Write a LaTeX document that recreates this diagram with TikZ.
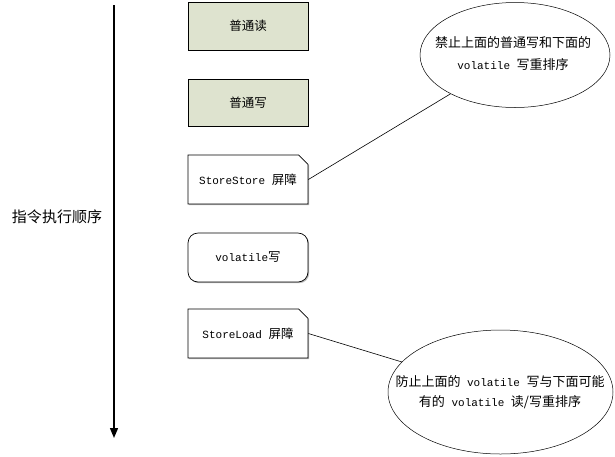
\documentclass[tikz,border=0pt]{standalone}
\usepackage{fontspec}
\setmainfont{Noto Sans CJK SC}
\newfontfamily\mono{Liberation Mono}
\usetikzlibrary{shapes.geometric,shapes.misc,shadows,arrows.meta}
\definecolor{boxgreen}{RGB}{222,227,207}
\newcommand{\en}[1]{{\mono\fontsize{11}{16}\selectfont #1}}
\begin{document}
\begin{tikzpicture}[x=1pt,y=-1pt,
  box/.style={draw=black, line width=0.7pt, minimum width=120pt, minimum height=48pt,
    inner sep=0pt, font=\fontsize{12.5}{14}\selectfont,
    drop shadow={shadow xshift=1.2pt, shadow yshift=-1.2pt, fill=gray!70, opacity=0.8}},
  greenbox/.style={box, fill=boxgreen, rectangle},
  cutbox/.style={box, fill=white, chamfered rectangle, chamfered rectangle corners=north east,
    chamfered rectangle xsep=9pt},
  roundbox/.style={box, fill=white, rectangle, rounded corners=10pt},
  note/.style={draw=black, line width=0.5pt, ellipse, inner sep=0pt},
  notetext/.style={align=center, inner sep=0pt, font=\fontsize{13}{22}\selectfont},
  link/.style={draw=black, line width=0.6pt}
]
\useasboundingbox (0,0) rectangle (615,456);

\node[greenbox] (n1) at (248,26) {普通读};
\node[greenbox, minimum height=47pt] (n2) at (248,102.5) {普通写};
\node[cutbox, minimum height=49pt] (n3) at (248,179.5) {\en{StoreStore }屏障};
\node[roundbox, minimum height=49pt] (n4) at (248,257.5) {\en{volatile}写};
\node[cutbox, minimum height=49pt] (n5) at (248,333.5) {\en{StoreLoad }屏障};

\node[note, minimum width=190pt, minimum height=105pt] (e1) at (515,55) {};
\node[notetext] (t1) at (513,54) {禁止上面的普通写和下面的\\\en{volatile }写重排序};
\node[note, minimum width=225pt, minimum height=124pt] (e2) at (500.5,392) {};
\node[notetext, font=\fontsize{13}{20}\selectfont] (t2) at (500,392)
  {防止上面的\en{ volatile }写与下面可能\\有的\en{ volatile }读/写重排序};

\draw[link] (n3.east) -- (e1);
\draw[link] (n5.east) -- (e2);

\coordinate (top) at (114,5);
\coordinate (bot) at (114,438);
\draw[line width=1.4pt, -{Triangle[width=8pt,length=10pt]}] (top) -- (bot);
\node[font=\fontsize{15}{16}\selectfont] (lab) at (57,217) {指令执行顺序};
\end{tikzpicture}
\end{document}
